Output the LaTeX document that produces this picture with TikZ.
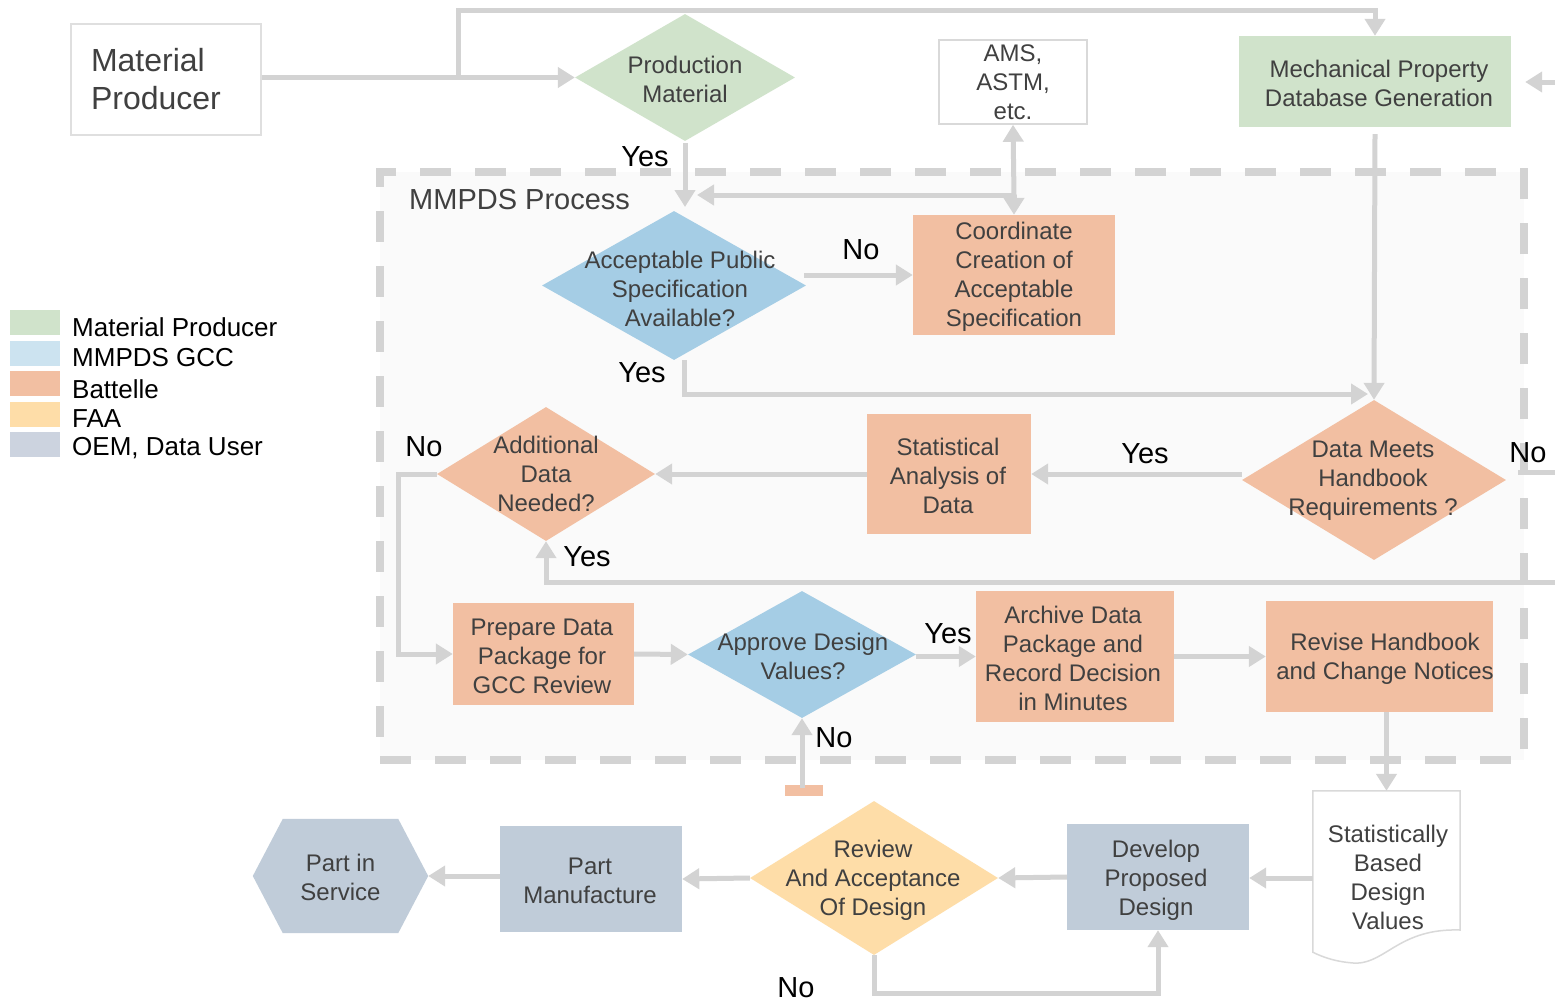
\documentclass[tikz,border=0pt]{standalone}
\usepackage{fontspec}
\setmainfont{Liberation Sans}
\usetikzlibrary{shapes.geometric,arrows.meta,calc}
\definecolor{cgreen}{RGB}{208,227,203}
\definecolor{lblue}{RGB}{204,227,240}
\definecolor{dblue}{RGB}{165,205,229}
\definecolor{corange}{RGB}{242,191,162}
\definecolor{cyellow}{RGB}{254,221,168}
\definecolor{cgray}{RGB}{192,204,217}
\definecolor{lgcol}{RGB}{204,211,223}
\definecolor{lgray}{RGB}{211,211,211}
\definecolor{tgray}{RGB}{64,64,64}
\definecolor{bgfill}{RGB}{250,250,250}
\begin{document}
\begin{tikzpicture}[x=1pt,y=-1pt,
  txt/.style={text=tgray,font=\fontsize{24}{29}\selectfont,align=center,inner sep=0pt},
  box/.style={rectangle,inner sep=0pt,txt},
  dia/.style={diamond,inner sep=0pt,draw=none},
  conn/.style={draw=lgray,line width=5pt},
  arr/.style={conn,-{Triangle[length=17pt,width=20pt]}},
  yn/.style={font=\fontsize{29}{34}\selectfont,text=black,inner sep=0pt},
  legsq/.style={rectangle,inner sep=0pt,minimum width=50pt,minimum height=25pt},
  legtx/.style={anchor=west,font=\fontsize{26}{30}\selectfont,text=black,inner sep=0pt},
]
\useasboundingbox[fill=white] (0,0) rectangle (1555,1001);

% MMPDS process area
\node[draw=lgray,line width=7.5pt,dash pattern=on 31pt off 24pt,fill=bgfill,
  minimum width=1144pt,minimum height=588pt,inner sep=0pt] (mmpds) at (952,466) {};
\node[anchor=west,text=tgray,font=\fontsize{29}{34}\selectfont,inner sep=0pt] (mmpdst) at (409,200) {MMPDS Process};

% Legend
\node[legsq,fill=cgreen] (lg1) at (35,322.5) {};
\node[legsq,fill=lblue] (lg2) at (35,353.5) {};
\node[legsq,fill=corange] (lg3) at (35,383.5) {};
\node[legsq,fill=cyellow] (lg4) at (35,414.5) {};
\node[legsq,fill=lgcol] (lg5) at (35,444.5) {};
\node[legtx] (lt1) at (72,327) {Material Producer};
\node[legtx] (lt2) at (72,358) {MMPDS GCC};
\node[legtx] (lt3) at (72,389) {Battelle};
\node[legtx] (lt4) at (72,419) {FAA};
\node[legtx] (lt5) at (72,448) {OEM, Data User};

% Top nodes
\node[box,draw=gray!25,line width=1.5pt,minimum width=190pt,minimum height=111pt,
  text width=150pt,inner xsep=20pt,align=left,font=\fontsize{32}{38}\selectfont] (mp) at (166,79.5) {Material\\Producer};
\node[dia,fill=cgreen,minimum width=220pt,minimum height=127pt] (pm) at (685,77.5) {};
\node[txt] (pmt) at (685,79) {Production\\Material};
\node[box,draw=gray!30,line width=1.5pt,minimum width=148pt,minimum height=84pt] (ams) at (1013,82) {AMS,\\ASTM,\\etc.};
\node[box,fill=cgreen,minimum width=272pt,minimum height=91pt] (mech) at (1375,81.5) {};
\node[txt] (mecht) at (1379,83) {Mechanical Property\\Database Generation};

% Process nodes
\node[dia,fill=dblue,minimum width=264pt,minimum height=149pt] (apsd) at (674,285.5) {};
\node[txt] (apsdt) at (680,289) {Acceptable Public\\Specification\\Available?};
\node[box,fill=corange,minimum width=202pt,minimum height=120pt] (coord) at (1014,275) {};
\node[txt] (coordt) at (1014,277) {Coordinate\\Creation of\\Acceptable\\Specification};
\node[dia,fill=corange,minimum width=264pt,minimum height=160pt] (dmhr) at (1374,480) {};
\node[txt] (dmhrt) at (1373,481) {Data Meets\\Handbook\\Requirements ?};
\node[box,fill=corange,minimum width=164pt,minimum height=120pt] (sad) at (949,474) {};
\node[txt] (sadt) at (948,476) {Statistical\\Analysis of\\Data};
\node[dia,fill=corange,minimum width=218pt,minimum height=134pt] (adn) at (546,474) {};
\node[txt] (adnt) at (546,474) {Additional\\Data\\Needed?};
\node[box,fill=corange,minimum width=181pt,minimum height=102pt] (pdp) at (543.5,654) {};
\node[txt] (pdpt) at (542,656) {Prepare Data\\Package for\\GCC Review};
\node[dia,fill=dblue,minimum width=228pt,minimum height=127pt] (adv) at (802,654.5) {};
\node[txt] (advt) at (803,656) {Approve Design\\Values?};
\node[box,fill=corange,minimum width=198pt,minimum height=131pt] (arch) at (1075,656.5) {};
\node[txt] (archt) at (1073,658) {Archive Data\\Package and\\Record Decision\\in Minutes};
\node[box,fill=corange,minimum width=227pt,minimum height=111pt] (rev) at (1379.5,656.5) {};
\node[txt] (revt) at (1385,659) {Revise Handbook\\and Change Notices};
\node[rectangle,fill=corange,minimum width=38pt,minimum height=11pt,inner sep=0pt] (stub) at (804,790.5) {};

% Bottom nodes
\node[box,minimum width=147pt,minimum height=174pt] (sbdv) at (1386.5,878) {};
\draw[draw=gray!30,line width=1.5pt,fill=white] (sbdv.north west) -- (sbdv.north east) -- ($(sbdv.east)+(0,52)$)
  .. controls ($(sbdv.east)+(-60,50)$) and ($(sbdv.south)+(0,-3)$) .. ($(sbdv.south)+(-30,-2)$)
  .. controls ($(sbdv.south)+(-50,-3)$) and ($(sbdv.south west)+(10,-8)$) .. ($(sbdv.south west)+(0,-13)$) -- cycle;
\node[txt] (sbdvt) at (1388,877) {Statistically\\Based\\Design\\Values};
\node[box,fill=cgray,minimum width=182pt,minimum height=106pt] (dpd) at (1158,877) {};
\node[txt] (dpdt) at (1156,880) {Develop\\Proposed\\Design};
\node[dia,fill=cyellow,minimum width=248pt,minimum height=154pt] (rad) at (874,878) {};
\node[txt] (radt) at (873,880) {Review\\And Acceptance\\Of Design};
\node[box,fill=cgray,minimum width=182pt,minimum height=106pt] (pmf) at (591,879) {};
\node[txt] (pmft) at (590,881) {Part\\Manufacture};
\node[box,minimum width=175pt,minimum height=114pt] (pis) at (340.5,876) {};
\fill[cgray] (pis.west) -- ([xshift=30pt]pis.north west) -- ([xshift=-30pt]pis.north east) -- (pis.east)
  -- ([xshift=-30pt]pis.south east) -- ([xshift=30pt]pis.south west) -- cycle;
\node[txt] (pist) at (340.5,877) {Part in\\Service};

% Connectors
\coordinate (j1) at (458,77);
\coordinate (top) at (458,10);
\coordinate (j2) at (1014,195);
\coordinate (mr) at (1555,82);
\coordinate (rr) at (1555,582);
\coordinate (nl) at (1518,472);
\coordinate (nr) at (1555,472);
\draw[arr] (mp.east |- pm.west) -- (pm.west);
\draw[arr] (j1) -- (top) -| (mech.north);
\draw[arr] (mr) -- ([xshift=14pt]mech.east |- mr);
\draw[arr] ([yshift=-2pt]pm.south) -- (pm.south |- 0,207);
\draw[arr] (j2) -- (ams.south);
\draw[arr] (j2) -- (coord.north);
\draw[arr] (j2) -- (697,195);
\draw[arr] ([xshift=-2pt]apsd.east |- coord.west) -- (coord.west);
\draw[arr] ([xshift=10pt]apsd.south) -- ([xshift=10pt]apsd.south |- 0,394) -- (1368,394);
\draw[arr] ([yshift=-7pt]mech.south) -- (dmhr.north);
\draw[arr] (dmhr.west |- sad.east) -- (sad.east);
\draw[arr] (sad.west) -- (adn.east);
\draw[arr] (adn.west) -- (398,474) |- (pdp.west);
\draw[arr] (rr) -| (adn.south);
\draw[conn] (nl) -- (nr);
\draw[arr] (pdp.east) -- (adv.west);
\draw[arr] (adv.east |- arch.west) -- (arch.west);
\draw[arr] (arch.east) -- (rev.west);
\draw[arr] (sbdv.north |- rev.south) -- (sbdv.north);
\draw[arr] ([yshift=-3pt]stub.north -| adv.south) -- (adv.south);
\draw[arr] (sbdv.west) -- (dpd.east |- sbdv.west);
\draw[arr] (dpd.west) -- (rad.east);
\draw[arr] (rad.south) -- (874,993) -| (dpd.south);
\draw[arr] (rad.west) -- (pmf.east);
\draw[arr] (pmf.west |- pis.east) -- (pis.east);

% Yes / No labels
\node[yn] (y1) at (645,157) {Yes};
\node[yn] (n1) at (861,250) {No};
\node[yn] (y2) at (642,373) {Yes};
\node[yn] (y3) at (1145,454) {Yes};
\node[yn] (n2) at (1528,453) {No};
\node[yn] (n3) at (424,447) {No};
\node[yn] (y4) at (587,557) {Yes};
\node[yn] (y5) at (948,634) {Yes};
\node[yn] (n4) at (834,738) {No};
\node[yn] (n5) at (796,988) {No};
\end{tikzpicture}
\end{document}
